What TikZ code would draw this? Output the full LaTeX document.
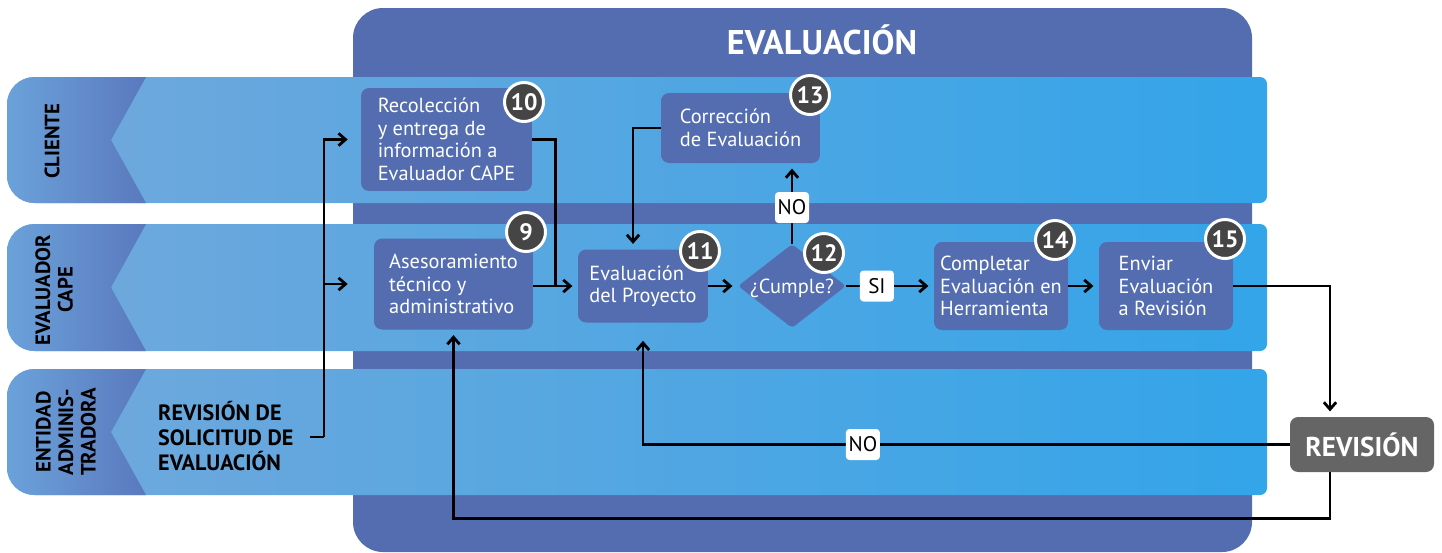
\documentclass[tikz,border=0pt]{standalone}
\usepackage{fontspec}
\setmainfont{PT Sans}
\usetikzlibrary{calc,shapes.geometric,arrows.meta}
\definecolor{boxblue}{HTML}{536DB0}
\definecolor{numgray}{HTML}{454545}
\definecolor{revgray}{HTML}{656565}
\definecolor{bandL}{HTML}{72A8DB}
\definecolor{bandR}{HTML}{33A5E9}
\definecolor{headL}{HTML}{6BA2DA}
\definecolor{headR}{HTML}{5A79BE}

\begin{document}
\begin{tikzpicture}[x=0.02cm,y=-0.02cm,
    box/.style={fill=boxblue, rounded corners=0.16cm, text=white, align=left,
      inner sep=0pt, font=\fontsize{11.6}{12.8}\selectfont},
    num/.style={circle, fill=numgray, draw=white, line width=1.7pt, text=white,
      minimum size=0.78cm, inner sep=0pt, font=\bfseries\fontsize{13.5}{14}\selectfont},
    lbl/.style={fill=white, rounded corners=2pt, text=black, inner sep=1pt,
      minimum width=0.68cm, minimum height=0.62cm, font=\fontsize{12}{13}\selectfont},
    lane/.style={rotate=90, align=center, font=\bfseries\fontsize{11.8}{12.8}\selectfont},
    wire/.style={line width=1.6pt},
    arr/.style={line width=1.6pt, -{Straight Barb[length=4pt,width=7pt]}, shorten >=3pt}]
    \useasboundingbox (0,0) rectangle (1442,552);
    \fill[boxblue, rounded corners=0.6cm] (353,8) rectangle (1252,552);
    \node[text=white, font=\bfseries\fontsize{19.5}{22}\selectfont] (title) at (822,40) {EVALUACIÓN};
    % swimlanes with their left headers
    \foreach \t/\b in {77/203, 224/351, 369/495}{
      \shade[left color=bandL, right color=bandR] (7,{(\t+\b)/2}) [rounded corners=0.55cm] -- (7,\t) -- (600,\t)
        [rounded corners=0.14cm] -- (1267,\t) -- (1267,\b) -- (600,\b) [rounded corners=0.55cm] -- (7,\b) -- cycle;
      \shade[left color=headL, right color=headR] (7,{(\t+\b)/2}) [rounded corners=0.55cm] -- (7,\t) -- (80,\t)
        [sharp corners] -- (146,\t) -- (111,{(\t+\b)/2}) -- (146,\b) -- (80,\b) [rounded corners=0.55cm] -- (7,\b) -- cycle;
    }
    \node[lane] (lc) at (52,141) {CLIENTE};
    \node[lane] (le) at (54,290) {EVALUADOR\\CAPE};
    \node[lane] (la) at (66,432) {ENTIDAD\\ADMINIS-\\TRADORA};
    \node[anchor=west, align=left, font=\bfseries\fontsize{12.6}{14.4}\selectfont] (sol) at (152,436)
      {REVISIÓN DE\\SOLICITUD DE\\EVALUACIÓN};

    \node[box, minimum width=3.42cm, minimum height=2.06cm] (n10) at (446.5,139.5)
      {Recolección\\y entrega de\\información a\\Evaluador CAPE};
    \node[box, minimum width=3.18cm, minimum height=1.82cm] (n9) at (453.5,284)
      {Asesoramiento\\técnico y\\administrativo};
    \node[box, minimum width=2.6cm, minimum height=1.46cm] (n11) at (643,286)
      {Evaluación\\del Proyecto};
    \node[box, minimum width=3.18cm, minimum height=1.4cm] (n13) at (740.5,128)
      {Corrección\\de Evaluación};
    \node[box, diamond, rounded corners=2pt, minimum width=2.16cm, minimum height=1.46cm] (dia) at (792,286)
      {\raisebox{-4pt}[0pt][0pt]{¿Cumple?}};
    \node[box, minimum width=2.68cm, minimum height=1.76cm] (n14) at (1001,286)
      {Completar\\Evaluación en\\Herramienta};
    \node[box, minimum width=2.68cm, minimum height=1.76cm] (n15) at (1166,286)
      {Enviar\\Evaluación\\a Revisión};
    \node[fill=revgray, rounded corners=0.16cm, text=white, minimum width=2.88cm, minimum height=1.1cm,
      font=\bfseries\fontsize{15.5}{16}\selectfont] (rev) at (1362,444.5) {REVISIÓN};

    \foreach \n/\x/\y in {9/526/232, 10/524/102, 11/700/251, 12/824/253, 13/810/95, 14/1055/240, 15/1225/239}
      \node[num] (c\n) at (\x,\y) {\n};

    \coordinate (sout) at (310,437);
    \draw[wire] (sout) -- ++(14,0) coordinate (fork);
    \draw[arr, shorten >=0.26cm] (fork) |- (n10.west);
    \draw[arr, shorten >=0.52cm] (fork) |- (n9.west);
    \draw[wire] (n10.east) -| ($(n9.east)!0.5!(n11.west)$);
    \draw[arr] (n9.east |- n11.west) -- (n11.west);
    \draw[arr] (n11.east) -- (dia.west);
    \draw[arr] (dia.north) -- node[lbl, pos=0.45] {NO} (dia.north |- n13.south);
    \draw[arr] (n13.west) -| ([xshift=-0.2cm]n11.north);
    \draw[arr] (dia.east) -- node[lbl, pos=0.35] {SI} (n14.west);
    \draw[arr] (n14.east) -- (n15.west);
    \draw[arr] (n15.east) -| ([xshift=-0.64cm]rev.north);
    \draw[arr, shorten >=0.36cm] (rev.west) -| node[lbl, pos=0.33] {NO} (n11.south);
    \draw[arr] ([xshift=-0.64cm]rev.south) -- ++(0,46) -| (n9.south);
\end{tikzpicture}
\end{document}
